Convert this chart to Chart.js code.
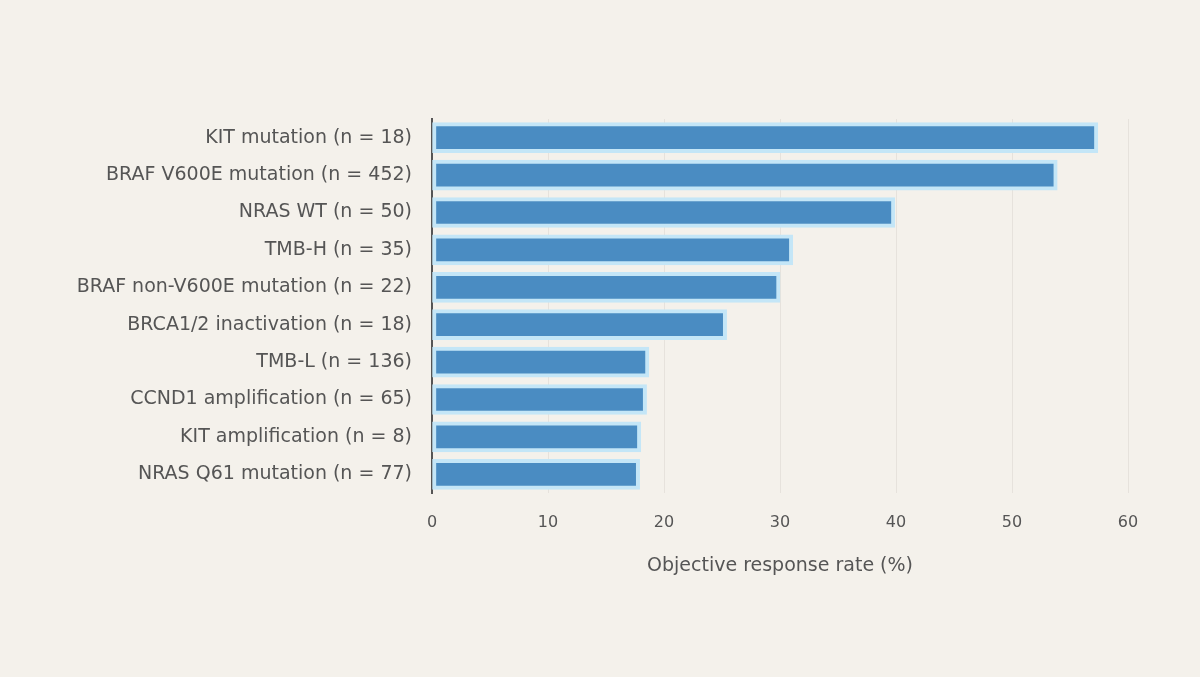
<!DOCTYPE html>
<html>
<head>
<meta charset="utf-8">
<script src="https://cdn.jsdelivr.net/npm/chart.js@4/dist/chart.umd.min.js"></script>
<style>
  html, body { margin: 0; padding: 0; background: #f4f1eb; }
  #wrap { width: 1200px; height: 677px; }
</style>
</head>
<body>
<div id="wrap"><canvas id="orr"></canvas></div>
<script>
const categories = [
    'KIT mutation (n = 18)',
    'BRAF V600E mutation (n = 452)',
    'NRAS WT (n = 50)',
    'TMB-H (n = 35)',
    'BRAF non-V600E mutation (n = 22)',
    'BRCA1/2 inactivation (n = 18)',
    'TMB-L (n = 136)',
    'CCND1 amplification (n = 65)',
    'KIT amplification (n = 8)',
    'NRAS Q61 mutation (n = 77)'
];
const responseRate = [57.4, 53.9, 39.9, 31.1, 30.0, 25.4, 18.7, 18.5, 18.0, 17.9];
const xTicks = [0, 10, 20, 30, 40, 50, 60];

document.addEventListener('DOMContentLoaded', () => {
    Chart.defaults.font.family = "'DejaVu Sans', sans-serif";
    Chart.defaults.color = '#555555';

    new Chart('orr', {
        type: 'bar',
        data: {
            labels: categories,
            datasets: [{
                label: 'Objective response rate (%)',
                data: responseRate,
                backgroundColor: '#4a8cc2',
                borderColor: '#c4e6f7',
                borderWidth: 4,
                borderSkipped: false,
                barThickness: 30
            }]
        },
        options: {
            indexAxis: 'y',
            responsive: true,
            maintainAspectRatio: false,
            animation: false,
            layout: { padding: { top: 119, right: 72, bottom: 92, left: 0 } },
            plugins: {
                legend: { display: false },
                tooltip: { enabled: false }
            },
            scales: {
                x: {
                    min: 0,
                    max: 60,
                    afterBuildTicks: s => { s.ticks = xTicks.map(v => ({ value: v })); },
                    afterFit: s => { s.height = 92; },
                    grid: { color: '#e6e2dc', drawTicks: false, lineWidth: 1 },
                    border: { display: false },
                    ticks: { padding: 20, font: { size: 16 } },
                    title: {
                        display: true,
                        text: 'Objective response rate (%)',
                        font: { size: 19 },
                        padding: { top: 4, bottom: 8 }
                    }
                },
                y: {
                    afterFit: s => { s.width = 432; },
                    grid: { display: false, drawTicks: false },
                    border: { color: '#555555', width: 2 },
                    ticks: { padding: 20, font: { size: 19 } }
                }
            }
        }
    });
});
</script>
</body>
</html>
